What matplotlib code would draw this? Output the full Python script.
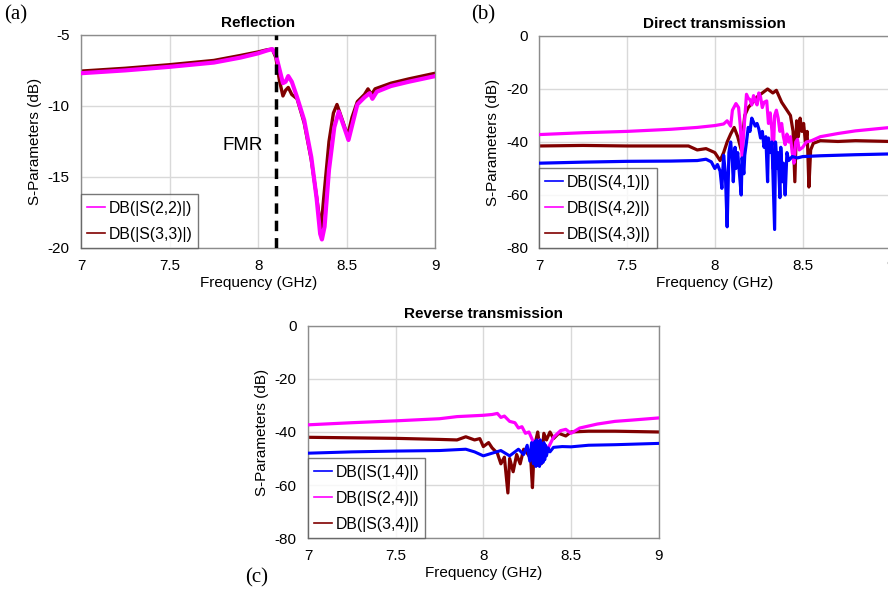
import matplotlib
matplotlib.use("Agg")
import matplotlib.pyplot as plt

plt.rcParams["font.family"] = ["Liberation Sans", "DejaVu Sans"]

MAGENTA = "#ff00ff"
BROWN = "#800000"
BLUE = "#0000ff"

# (a) Reflection
f_s22 = [7.0, 7.25, 7.5, 7.75, 7.9, 8.0, 8.05, 8.08, 8.1, 8.12, 8.14, 8.155, 8.17, 8.19,
         8.22, 8.26, 8.3, 8.33, 8.35, 8.36, 8.375, 8.4, 8.43, 8.455, 8.48, 8.51, 8.53,
         8.56, 8.6, 8.63, 8.645, 8.67, 8.75, 8.85, 9.0]
s22 = [-7.7, -7.5, -7.25, -6.95, -6.6, -6.3, -6.1, -6.0, -6.4, -7.4, -8.4, -8.3, -7.9, -8.3,
       -9.4, -11.0, -13.6, -16.5, -19.0, -19.4, -18.5, -14.5, -11.5, -10.4, -11.3, -12.4, -11.4,
       -9.9, -9.4, -9.1, -9.5, -9.0, -8.6, -8.3, -7.9]

f_s33 = [7.0, 7.25, 7.5, 7.75, 7.9, 8.0, 8.05, 8.08, 8.1, 8.12, 8.14, 8.155, 8.17, 8.19,
         8.22, 8.26, 8.3, 8.33, 8.345, 8.355, 8.37, 8.4, 8.425, 8.445, 8.47, 8.505, 8.53,
         8.56, 8.6, 8.62, 8.64, 8.66, 8.75, 8.85, 9.0]
s33 = [-7.55, -7.35, -7.1, -6.8, -6.45, -6.2, -6.05, -6.0, -6.6, -8.2, -9.3, -8.9, -8.7, -9.2,
       -9.5, -11.2, -13.8, -16.4, -17.8, -18.6, -16.5, -12.5, -10.5, -9.9, -10.8, -12.1, -10.8,
       -9.7, -9.2, -8.8, -9.2, -8.8, -8.4, -8.1, -7.7]

fmr_freq = 8.1

# (b) Direct transmission
f_s41 = [7.0, 7.25, 7.5, 7.75, 7.9, 7.95, 7.98, 8.0, 8.015, 8.03, 8.04, 8.05, 8.06, 8.07,
         8.08, 8.09, 8.1, 8.105, 8.115, 8.12, 8.13, 8.14, 8.15, 8.155, 8.165, 8.17, 8.18,
         8.19, 8.2, 8.21, 8.22, 8.23, 8.24, 8.25, 8.26, 8.27, 8.28, 8.29, 8.3, 8.305, 8.315,
         8.325, 8.34, 8.345, 8.355, 8.36, 8.37, 8.375, 8.385, 8.39, 8.4, 8.41, 8.42, 8.44,
         8.47, 8.5, 8.6, 8.7, 8.8, 9.0]
s41 = [-48.0, -47.6, -47.3, -47.2, -47.0, -46.5, -47.5, -50.0, -48.5, -51.0, -57.5, -45.0, -52.0, -72.0,
       -44.0, -40.0, -48.0, -55.0, -42.0, -50.0, -44.0, -52.0, -60.0, -46.0, -52.0, -45.0, -40.0,
       -34.5, -36.0, -31.0, -32.5, -34.0, -33.0, -35.0, -38.5, -36.0, -42.0, -38.0, -55.0, -38.5, -44.0,
       -40.0, -73.0, -40.0, -50.0, -44.0, -61.0, -42.0, -55.0, -48.0, -60.0, -44.0, -47.0, -45.5,
       -46.0, -45.5, -45.2, -45.0, -44.8, -44.5]

f_s42 = [7.0, 7.25, 7.5, 7.75, 7.9, 8.0, 8.05, 8.07, 8.09, 8.1, 8.12, 8.135, 8.145, 8.155,
         8.165, 8.18, 8.19, 8.2, 8.21, 8.22, 8.23, 8.24, 8.25, 8.26, 8.27, 8.28, 8.295,
         8.305, 8.315, 8.325, 8.33, 8.34, 8.35, 8.36, 8.37, 8.38, 8.39, 8.4, 8.41, 8.42,
         8.43, 8.44, 8.45, 8.46, 8.47, 8.48, 8.5, 8.52, 8.55, 8.6, 8.7, 8.8, 9.0]
s42 = [-37.2, -36.5, -36.0, -35.2, -34.5, -33.8, -33.2, -32.0, -34.0, -28.0, -25.5, -27.0, -34.0, -46.0,
       -36.0, -22.0, -23.5, -24.0, -26.0, -22.5, -24.5, -26.0, -21.5, -23.0, -27.0, -25.0, -24.5,
       -33.0, -29.0, -36.0, -50.0, -30.0, -28.0, -31.0, -36.0, -33.0, -38.0, -41.0, -37.0, -40.0,
       -38.0, -44.0, -48.0, -40.0, -39.0, -43.0, -42.0, -40.0, -39.5, -38.0, -36.8, -35.8, -34.5]

f_s43 = [7.0, 7.25, 7.5, 7.75, 7.85, 7.9, 7.95, 8.0, 8.03, 8.05, 8.07, 8.09, 8.11, 8.13,
         8.15, 8.17, 8.19, 8.21, 8.24, 8.27, 8.3, 8.33, 8.35, 8.38, 8.41, 8.43, 8.445,
         8.455, 8.465, 8.475, 8.485, 8.495, 8.505, 8.515, 8.525, 8.535, 8.545, 8.56, 8.6,
         8.7, 8.8, 9.0]
s43 = [-41.5, -41.3, -41.5, -41.5, -41.5, -43.0, -42.5, -44.0, -47.0, -44.0, -40.0, -37.0, -34.5, -38.0,
       -43.0, -30.0, -27.0, -25.5, -23.0, -21.5, -20.0, -21.5, -20.5, -25.0, -28.0, -30.0, -36.0,
       -55.0, -32.0, -38.0, -31.0, -36.0, -33.0, -40.0, -36.0, -57.0, -43.0, -40.5, -39.5,
       -39.8, -39.5, -39.8]

# (c) Reverse transmission
f_s14 = [7.0, 7.25, 7.5, 7.75, 7.9, 7.95, 8.0, 8.05, 8.1, 8.15, 8.2, 8.23, 8.25, 8.265,
         8.275, 8.285, 8.295, 8.3, 8.305, 8.31, 8.315, 8.32, 8.325, 8.33, 8.335, 8.34,
         8.345, 8.35, 8.355, 8.36, 8.37, 8.38, 8.4, 8.45, 8.5, 8.6, 8.75, 9.0]
s14 = [-48.0, -47.5, -47.2, -47.0, -46.5, -47.5, -49.0, -48.0, -47.0, -49.0, -46.5, -48.5, -45.0, -51.0,
       -44.0, -52.0, -43.5, -53.0, -43.0, -52.5, -44.0, -53.0, -43.0, -52.0, -44.5, -51.5,
       -44.0, -50.5, -45.0, -49.0, -46.0, -47.5, -45.8, -45.5, -45.6, -45.0, -44.8, -44.3]

f_s24 = [7.0, 7.25, 7.5, 7.75, 7.85, 8.0, 8.05, 8.08, 8.1, 8.12, 8.15, 8.18, 8.2, 8.22,
         8.24, 8.26, 8.28, 8.3, 8.32, 8.34, 8.37, 8.4, 8.44, 8.47, 8.5, 8.55, 8.65,
         8.75, 8.85, 9.0]
s24 = [-37.3, -36.5, -35.8, -35.0, -34.2, -33.7, -33.4, -33.0, -34.5, -34.0, -36.0, -36.5, -38.5, -38.0,
       -40.5, -40.0, -43.0, -46.0, -43.0, -45.5, -46.0, -42.0, -39.5, -39.0, -40.5, -38.5, -37.0,
       -36.0, -35.5, -34.7]

f_s34 = [7.0, 7.25, 7.5, 7.75, 7.85, 7.9, 7.95, 7.98, 8.0, 8.03, 8.05, 8.08, 8.1, 8.12,
         8.14, 8.15, 8.17, 8.19, 8.21, 8.23, 8.25, 8.27, 8.28, 8.29, 8.3, 8.31, 8.32,
         8.33, 8.345, 8.36, 8.38, 8.4, 8.43, 8.47, 8.5, 8.6, 8.75, 9.0]
s34 = [-42.0, -42.2, -42.4, -42.8, -43.0, -41.8, -43.0, -42.5, -45.5, -44.0, -46.0, -48.0, -52.0, -49.5,
       -63.0, -50.0, -55.0, -48.5, -52.0, -46.5, -48.0, -50.0, -61.0, -46.0, -43.0, -40.0, -45.0,
       -52.0, -40.5, -43.0, -40.0, -42.5, -40.5, -41.5, -40.0, -39.7, -39.7, -40.0]

x_ticks = [7, 7.5, 8, 8.5, 9]
x_tick_labels = ["7", "7.5", "8", "8.5", "9"]


def style_axes(ax, ylim, yticks, title):
    ax.set_xlim(7, 9)
    ax.set_ylim(*ylim)
    ax.set_xticks(x_ticks)
    ax.set_xticklabels(x_tick_labels)
    ax.set_yticks(yticks)
    ax.set_yticklabels([f"{t:g}" for t in yticks])
    ax.grid(True, color="#d9d9d9", linewidth=1.0)
    ax.set_axisbelow(True)
    for sp in ax.spines.values():
        sp.set_color("#8c8c8c")
        sp.set_linewidth(1.0)
    ax.tick_params(length=0, labelsize=11, pad=8)
    ax.set_title(title, fontsize=11, fontweight="bold", pad=6)
    ax.set_xlabel("Frequency (GHz)", fontsize=11, labelpad=2)
    ax.set_ylabel("S-Parameters (dB)", fontsize=11, labelpad=4)


def add_legend(ax):
    leg = ax.legend(loc="lower left", fontsize=11.3, frameon=True, fancybox=False,
                    borderaxespad=0.0, handlelength=1.1, handletextpad=0.25,
                    borderpad=0.4, labelspacing=0.7)
    leg.get_frame().set_edgecolor("#555555")
    leg.get_frame().set_linewidth(1.0)
    for line in leg.get_lines():
        line.set_linewidth(1.2)


fig = plt.figure(figsize=(8.88, 5.97), dpi=100)

# (a)
ax_a = fig.add_axes([0.0912, 0.5846, 0.399, 0.357])
ax_a.plot(f_s22, s22, color=MAGENTA, lw=3.0, label="DB(|S(2,2)|)", zorder=3)
ax_a.plot(f_s33, s33, color=BROWN, lw=2.4, label="DB(|S(3,3)|)", zorder=2)
ax_a.axvline(fmr_freq, color="black", lw=2.5, ls=(0, (3, 2)), zorder=4)
ax_a.text(7.915, -12.8, "FMR", fontsize=13.5, ha="center", va="center")
style_axes(ax_a, (-20, -5), [-5, -10, -15, -20], "Reflection")
add_legend(ax_a)

# (b)
ax_b = fig.add_axes([0.607, 0.5846, 0.396, 0.3551])
ax_b.plot(f_s41, s41, color=BLUE, lw=2.3, label="DB(|S(4,1)|)", zorder=4)
ax_b.plot(f_s42, s42, color=MAGENTA, lw=2.3, label="DB(|S(4,2)|)", zorder=3)
ax_b.plot(f_s43, s43, color=BROWN, lw=2.3, label="DB(|S(4,3)|)", zorder=2)
style_axes(ax_b, (-80, 0), [0, -20, -40, -60, -80], "Direct transmission")
add_legend(ax_b)

# (c)
ax_c = fig.add_axes([0.3468, 0.0988, 0.395, 0.3552])
ax_c.plot(f_s14, s14, color=BLUE, lw=2.2, label="DB(|S(1,4)|)", zorder=4)
ax_c.plot(f_s24, s24, color=MAGENTA, lw=2.3, label="DB(|S(2,4)|)", zorder=3)
ax_c.plot(f_s34, s34, color=BROWN, lw=2.3, label="DB(|S(3,4)|)", zorder=2)
style_axes(ax_c, (-80, 0), [0, -20, -40, -60, -80], "Reverse transmission")
add_legend(ax_c)

fig.text(0.005, 0.975, "(a)", fontsize=15, family="Liberation Serif", va="center")
fig.text(0.531, 0.975, "(b)", fontsize=15, family="Liberation Serif", va="center")
fig.text(0.276, 0.032, "(c)", fontsize=15, family="Liberation Serif", va="center")

fig.savefig("out.png", dpi=100)
